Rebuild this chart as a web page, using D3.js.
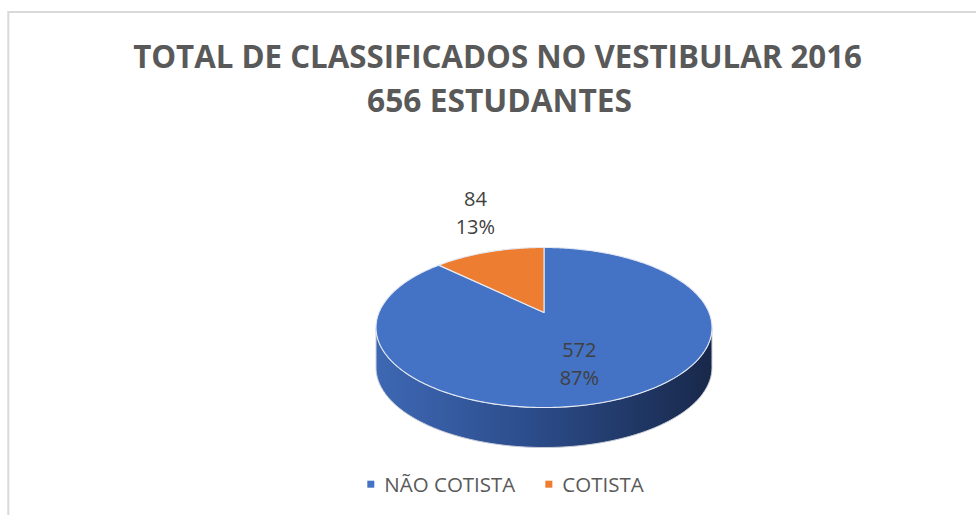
<!DOCTYPE html>
<html>
<head>
<meta charset="utf-8">
<script src="https://cdn.jsdelivr.net/npm/d3@7/dist/d3.min.js"></script>
<style>
  html, body { margin: 0; padding: 0; background: #ffffff; }
  svg { display: block; }
</style>
</head>
<body>
<svg id="chart" width="976" height="515"></svg>
<script>
// ---- data ----
const categories = ["NÃO COTISTA", "COTISTA"];
const values = [572, 84];
const colors = ["#4472c4", "#ed7d31"];
const titleLine1 = "TOTAL DE CLASSIFICADOS NO VESTIBULAR 2016";
const titleLine2Suffix = "ESTUDANTES";

// ---- layout ----
const W = 976, H = 515;
const svg = d3.select("#chart");
const total = d3.sum(values);
const pct = d3.format(".0%");

// frame
svg.append("rect").attr("x", 8.3).attr("y", 12).attr("width", 1100).attr("height", 700)
  .attr("fill", "#ffffff").attr("stroke", "#d9d9d9").attr("stroke-width", 2);

// title (fit to measured extents)
function fitText(str, cx, baseline, capFont, targetW, opts) {
  const g = svg.append("g");
  const t = g.append("text").text(str)
    .attr("font-family", opts.family).attr("font-weight", opts.weight)
    .attr("font-size", capFont).attr("fill", opts.fill)
    .attr("text-anchor", "middle");
  const w = t.node().getComputedTextLength();
  const sx = targetW / w;
  g.attr("transform", `translate(${cx},${baseline}) scale(${sx},1)`);
  return g;
}
const titleOpts = { family: "'Open Sans', sans-serif", weight: 700, fill: "#595959" };
fitText(titleLine1, 497.5, 68, 32, 729, titleOpts);
fitText(`${total} ${titleLine2Suffix}`, 499.5, 111.7, 32, 265, titleOpts);

// ---- 3D pie projection ----
const CX = 544, CY = 312.5, A = 165, B = 77.2, K = -0.1875, DEPTH = 40;
const xs = d3.scaleLinear().domain([-1, 1]).range([CX - A, CX + A]);
const ys = d3.scaleLinear().domain([-1, 1]).range([CY - B, CY + B]);
function proj(theta, r, h) {
  const u = r * Math.sin(theta), v = -r * Math.cos(theta);
  const den = 1 + K * v;
  return [xs(u / den), ys(v / den) + h];
}
function arcPts(a0, a1, r, h) {
  const n = Math.max(2, Math.ceil(Math.abs(a1 - a0) / (Math.PI / 180)));
  return d3.range(n + 1).map(i => proj(a0 + (a1 - a0) * i / n, r, h));
}

const pie = d3.pie().sort(null).startAngle(0).endAngle(2 * Math.PI);
const arcs = pie(values);
const line = d3.line();

const defs = svg.append("defs");
const grad = defs.append("linearGradient").attr("id", "sideGrad")
  .attr("gradientUnits", "userSpaceOnUse")
  .attr("x1", CX - A * 1.02).attr("x2", CX + A * 1.02).attr("y1", 0).attr("y2", 0);
grad.append("stop").attr("offset", "0%").attr("stop-color", "#3e68b4");
grad.append("stop").attr("offset", "45%").attr("stop-color", "#2c4d8c");
grad.append("stop").attr("offset", "100%").attr("stop-color", "#18284a");

const sideGradOrange = defs.append("linearGradient").attr("id", "sideGradO")
  .attr("gradientUnits", "userSpaceOnUse")
  .attr("x1", CX - A * 1.02).attr("x2", CX + A * 1.02).attr("y1", 0).attr("y2", 0);
sideGradOrange.append("stop").attr("offset", "0%").attr("stop-color", "#c96a29");
sideGradOrange.append("stop").attr("offset", "100%").attr("stop-color", "#6e3a16");

// visible front side: angles between tangents
const tR = Math.acos(K), tL = 2 * Math.PI - Math.acos(K);
arcs.forEach((d, i) => {
  const a0 = Math.max(d.startAngle, tR), a1 = Math.min(d.endAngle, tL);
  if (a1 <= a0) return;
  const top = arcPts(a0, a1, 1, 0);
  const bot = arcPts(a1, a0, 1, DEPTH);
  svg.append("path").attr("d", line(top.concat(bot)) + "Z")
    .attr("fill", i === 0 ? "url(#sideGrad)" : "url(#sideGradO)")
    .attr("stroke", "#c9ced8").attr("stroke-width", 1).attr("stroke-linejoin", "round");
});

// top surface
arcs.forEach((d, i) => {
  const pts = [proj(0, 0, 0)].concat(arcPts(d.startAngle, d.endAngle, 1, 0));
  svg.append("path").attr("d", line(pts) + "Z")
    .attr("fill", colors[i])
    .attr("stroke", "#e4e9f3").attr("stroke-width", 1.1).attr("stroke-linejoin", "round");
});

// data labels
const labelFont = "'Open Sans', sans-serif";
arcs.forEach((d, i) => {
  const mid = (d.startAngle + d.endAngle) / 2;
  const inside = (d.endAngle - d.startAngle) > Math.PI / 2;
  const [lx, ly] = inside ? proj(mid, 0.5, 0) : proj(mid, 1.3, 0);
  const b1 = inside ? ly + 5.5 : ly - 31;
  const t = svg.append("text").attr("text-anchor", "middle")
    .attr("font-family", labelFont).attr("font-size", 20).attr("fill", "#404040");
  t.append("tspan").attr("x", lx).attr("y", b1).text(values[i]);
  t.append("tspan").attr("x", lx).attr("y", b1 + 28.3).text(pct(d.value / total));
});

// legend
const legend = svg.append("g");
let lx = 367.3;
categories.forEach((c, i) => {
  legend.append("rect").attr("x", lx).attr("y", 480.7).attr("width", 7).attr("height", 7)
    .attr("fill", colors[i]);
  const t = legend.append("text").attr("x", lx + 17).attr("y", 492.3)
    .attr("font-family", labelFont).attr("font-size", 20.5).attr("fill", "#595959").text(c);
  lx = lx + 17 + t.node().getComputedTextLength() + 30;
});
</script>
</body>
</html>
